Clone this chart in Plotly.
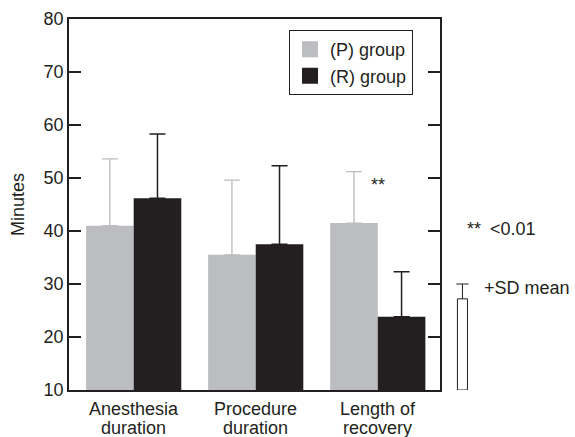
import plotly.graph_objects as go

categories = ["Anesthesia\nduration", "Procedure\nduration", "Length of\nrecovery"]
p_mean = [41.0, 35.5, 41.5]
p_sd = [12.6, 14.1, 9.7]
r_mean = [46.2, 37.5, 23.8]
r_sd = [12.1, 14.8, 8.5]
y_ticks = [10, 20, 30, 40, 50, 60, 70, 80]

P_COLOR = "#bcbdc1"
R_COLOR = "#231f20"
INK = "#231f20"
FONT = "Liberation Sans, Arial, sans-serif"
FS = 18

x = list(range(len(categories)))

fig = go.Figure()
fig.add_trace(go.Bar(
    x=x, y=p_mean, name="(P) group", showlegend=False,
    marker=dict(color=P_COLOR, line=dict(width=0)),
    error_y=dict(type="data", symmetric=False, array=p_sd, arrayminus=[0] * len(x),
                 color=P_COLOR, thickness=1.3, width=8),
))
fig.add_trace(go.Bar(
    x=x, y=r_mean, name="(R) group", showlegend=False,
    marker=dict(color=R_COLOR, line=dict(width=0)),
    error_y=dict(type="data", symmetric=False, array=r_sd, arrayminus=[0] * len(x),
                 color=R_COLOR, thickness=1.5, width=8),
))

# legend entries with larger square swatches
for name, color in [("(P) group", P_COLOR), ("(R) group", R_COLOR)]:
    fig.add_trace(go.Scatter(
        x=[None], y=[None], mode="markers", name=name,
        marker=dict(symbol="square", size=16, color=color, line=dict(width=0)),
    ))

# category labels, two tightly spaced lines under each group
for xi, label in zip(x, categories):
    for k, line in enumerate(label.split("\n")):
        fig.add_annotation(x=xi, y=0, xref="x", yref="paper", yanchor="middle",
                           yshift=-19 - 19 * k, text=line, showarrow=False,
                           borderpad=0,
                           font=dict(size=FS, color=INK, family=FONT))

# significance marker over recovery
fig.add_annotation(x=2.0, y=48.6, xref="x", yref="y", text="**", showarrow=False,
                   font=dict(size=FS, color=INK, family=FONT))

# key on the right: significance and mean + SD glyph
fig.add_annotation(x=1.068, y=40.3, xref="paper", yref="y", text="**\u2002<0.01",
                   showarrow=False, xanchor="left", font=dict(size=FS, color=INK, family=FONT))
fig.add_annotation(x=1.113, y=29.3, xref="paper", yref="y", text="+SD mean",
                   showarrow=False, xanchor="left", font=dict(size=FS, color=INK, family=FONT))
fig.add_shape(type="rect", xref="paper", yref="y", x0=1.047, x1=1.074, y0=10, y1=27.2,
              line=dict(color=INK, width=1), fillcolor="white", layer="above")
fig.add_shape(type="line", xref="paper", yref="y", x0=1.0605, x1=1.0605, y0=27.2, y1=30,
              line=dict(color=INK, width=1))
fig.add_shape(type="line", xref="paper", yref="y", x0=1.044, x1=1.077, y0=30, y1=30,
              line=dict(color=INK, width=1))

fig.update_layout(
    width=575, height=437,
    margin=dict(l=69, r=135, t=19, b=47),
    paper_bgcolor="white", plot_bgcolor="white",
    barmode="group", bargap=0.22, bargroupgap=0,
    font=dict(family=FONT, color=INK, size=FS),
    showlegend=True,
    legend=dict(x=0.593, y=0.97, xanchor="left", yanchor="top",
                bordercolor=INK, borderwidth=1, bgcolor="white",
                font=dict(size=FS, color=INK), itemwidth=30, tracegroupgap=2),
    xaxis=dict(
        range=[-0.53, 2.51], tickvals=x, showticklabels=False,
        showline=True, linecolor=INK, linewidth=1.5, mirror=True,
        ticks="", showgrid=False, zeroline=False, automargin=False,
    ),
    yaxis=dict(
        range=[10, 80], tickvals=y_ticks,
        showline=True, linecolor=INK, linewidth=1.5, mirror="ticks",
        ticks="inside", ticklen=12, tickwidth=1.5, tickcolor=INK,
        showgrid=False, zeroline=False, automargin=False,
        title=dict(text="Minutes", font=dict(size=FS, color=INK), standoff=14),
        tickfont=dict(size=FS, color=INK),
    ),
)

fig.write_html("out.html")
